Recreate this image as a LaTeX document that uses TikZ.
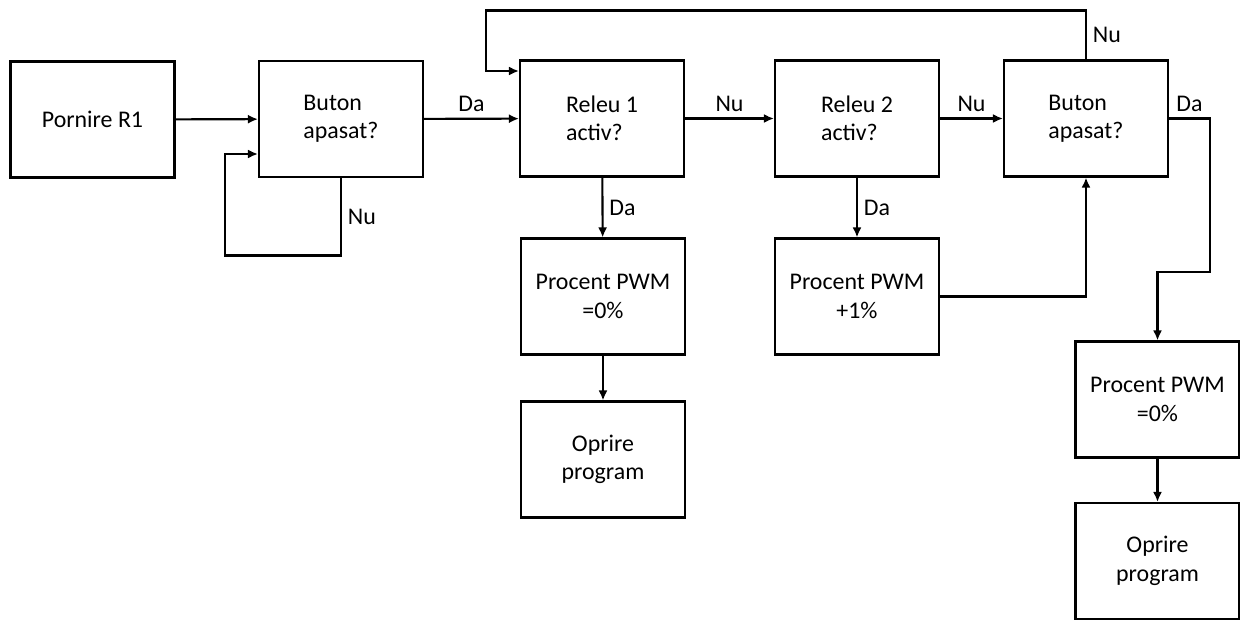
\documentclass[tikz,border=0pt]{standalone}
\usepackage{fontspec}
\setmainfont{Carlito}
\usetikzlibrary{arrows.meta}
\tikzset{>={Latex[length=2mm,width=1.8mm]}}

\begin{document}
\begin{tikzpicture}[x=0.02cm, y=-0.02cm]
    % one unit = one pixel of the sketch, y going down
    \tikzstyle{every node}=[font=\fontsize{13.6}{16.2}\selectfont]
    \tikzstyle{blok}=[draw=black, line width=1.2pt, minimum width=3.28cm, minimum height=2.32cm, inner sep=0pt, align=center]
    \tikzstyle{intreb}=[blok, align=left]
    \tikzstyle{flow}=[->, black, line width=1.2pt]
    \useasboundingbox (0,0) rectangle (1240,619);

    \node[blok] (start) at (92.5,119.5) {Pornire R1};
    \node[intreb] (btnA) at (341,119) {Buton\\apasat?};
    \node[intreb] (rel1) at (602,118.5) {Releu 1\\activ?};
    \node[intreb] (rel2) at (857,118.5) {Releu 2\\activ?};
    \node[intreb] (btnB) at (1086,118.5) {Buton\\apasat?};
    \node[blok] (pwm1) at (603,296.5) {Procent PWM\\=0\%};
    \node[blok] (stop1) at (603,459.5) {Oprire\\program};
    \node[blok] (pwm2) at (857,296.5) {Procent PWM\\+1\%};
    \node[blok] (pwm3) at (1157.5,399.5) {Procent PWM\\=0\%};
    \node[blok] (stop3) at (1157.5,561) {Oprire\\program};

    \draw[flow] (start) -- (btnA);
    \draw[flow] (btnA.south) -- ++(0,77.5) node[midway, right] (nuA) {Nu}
        -- ++(-116,0) |- ([yshift=-0.7cm]btnA.west);
    \draw[flow] (btnA) -- (rel1) node[midway, above] (daA) {Da};
    \draw[flow] (rel1) -- (rel2) node[midway, above] (nu1) {Nu};
    \draw[flow] (rel2) -- (btnB) node[midway, above] (nu2) {Nu};
    \draw[flow] (rel1) -- (pwm1) node[midway, right] (da1) {Da};
    \draw[flow] (rel2) -- (pwm2) node[midway, right] (da2) {Da};
    \draw[flow] (pwm1) -- (stop1);
    \draw[flow] (pwm2.east) -| (btnB.south);
    % back to the first relay
    \draw[flow] (btnB.north) -- ++(0,-49) node[midway, right] (nuB) {Nu}
        -| ([xshift=-0.66cm, yshift=0.95cm]rel1.west) -- ([yshift=0.95cm]rel1.west);
    \draw[flow] (btnB.east) -- ++(41,0) node[midway, above] (daB) {Da}
        -- ++(0,153.5) -| (pwm3.north);
    \draw[flow] (pwm3) -- (stop3);
\end{tikzpicture}
\end{document}
